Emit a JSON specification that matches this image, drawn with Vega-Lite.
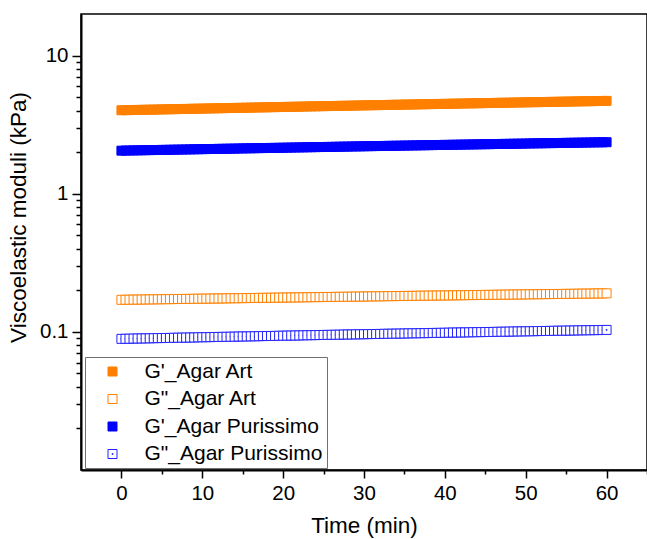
{
  "$schema": "https://vega.github.io/schema/vega-lite/v6.json",
  "width": 566,
  "height": 456,
  "autosize": "none",
  "padding": {"left": 81, "top": 14, "right": 0, "bottom": 69},
  "background": "white",
  "config": {
    "view": {"stroke": "black", "strokeWidth": 1.5},
    "font": "Liberation Sans",
    "axis": {
      "grid": false,
      "domainColor": "black",
      "domainWidth": 2,
      "tickColor": "black",
      "tickWidth": 1.5,
      "labelColor": "black",
      "labelFont": "Liberation Sans",
      "labelFontSize": 20.5,
      "titleFont": "Liberation Sans",
      "titleFontSize": 22.5,
      "titleFontWeight": "normal",
      "titleColor": "black",
      "labelOverlap": false,
      "labelFlush": false
    }
  },
  "data": {"values": [
{"t":0,"a":4.020,"b":0.1706,"c":2.050,"d":0.0890},
{"t":0.5,"a":4.026,"b":0.1708,"c":2.053,"d":0.0891},
{"t":1,"a":4.031,"b":0.1709,"c":2.055,"d":0.0892},
{"t":1.5,"a":4.037,"b":0.1711,"c":2.058,"d":0.0894},
{"t":2,"a":4.043,"b":0.1712,"c":2.060,"d":0.0895},
{"t":2.5,"a":4.048,"b":0.1714,"c":2.063,"d":0.0896},
{"t":3,"a":4.054,"b":0.1716,"c":2.066,"d":0.0897},
{"t":3.5,"a":4.060,"b":0.1717,"c":2.068,"d":0.0898},
{"t":4,"a":4.065,"b":0.1719,"c":2.071,"d":0.0900},
{"t":4.5,"a":4.071,"b":0.1721,"c":2.073,"d":0.0901},
{"t":5,"a":4.077,"b":0.1722,"c":2.076,"d":0.0902},
{"t":5.5,"a":4.082,"b":0.1724,"c":2.078,"d":0.0903},
{"t":6,"a":4.088,"b":0.1725,"c":2.081,"d":0.0904},
{"t":6.5,"a":4.094,"b":0.1727,"c":2.084,"d":0.0906},
{"t":7,"a":4.099,"b":0.1729,"c":2.086,"d":0.0907},
{"t":7.5,"a":4.105,"b":0.1730,"c":2.089,"d":0.0908},
{"t":8,"a":4.111,"b":0.1732,"c":2.091,"d":0.0909},
{"t":8.5,"a":4.116,"b":0.1733,"c":2.094,"d":0.0910},
{"t":9,"a":4.122,"b":0.1735,"c":2.097,"d":0.0911},
{"t":9.5,"a":4.128,"b":0.1737,"c":2.099,"d":0.0913},
{"t":10,"a":4.133,"b":0.1738,"c":2.102,"d":0.0914},
{"t":10.5,"a":4.139,"b":0.1740,"c":2.104,"d":0.0915},
{"t":11,"a":4.145,"b":0.1742,"c":2.107,"d":0.0916},
{"t":11.5,"a":4.150,"b":0.1743,"c":2.109,"d":0.0918},
{"t":12,"a":4.156,"b":0.1745,"c":2.112,"d":0.0919},
{"t":12.5,"a":4.162,"b":0.1746,"c":2.115,"d":0.0920},
{"t":13,"a":4.167,"b":0.1748,"c":2.117,"d":0.0921},
{"t":13.5,"a":4.173,"b":0.1750,"c":2.120,"d":0.0922},
{"t":14,"a":4.179,"b":0.1751,"c":2.122,"d":0.0923},
{"t":14.5,"a":4.184,"b":0.1753,"c":2.125,"d":0.0925},
{"t":15,"a":4.190,"b":0.1754,"c":2.128,"d":0.0926},
{"t":15.5,"a":4.196,"b":0.1756,"c":2.130,"d":0.0927},
{"t":16,"a":4.201,"b":0.1758,"c":2.133,"d":0.0928},
{"t":16.5,"a":4.207,"b":0.1759,"c":2.135,"d":0.0929},
{"t":17,"a":4.213,"b":0.1761,"c":2.138,"d":0.0930},
{"t":17.5,"a":4.218,"b":0.1763,"c":2.140,"d":0.0932},
{"t":18,"a":4.224,"b":0.1764,"c":2.143,"d":0.0933},
{"t":18.5,"a":4.230,"b":0.1766,"c":2.146,"d":0.0934},
{"t":19,"a":4.235,"b":0.1767,"c":2.148,"d":0.0935},
{"t":19.5,"a":4.241,"b":0.1769,"c":2.151,"d":0.0937},
{"t":20,"a":4.247,"b":0.1771,"c":2.153,"d":0.0938},
{"t":20.5,"a":4.252,"b":0.1772,"c":2.156,"d":0.0939},
{"t":21,"a":4.258,"b":0.1774,"c":2.159,"d":0.0940},
{"t":21.5,"a":4.264,"b":0.1775,"c":2.161,"d":0.0941},
{"t":22,"a":4.269,"b":0.1777,"c":2.164,"d":0.0942},
{"t":22.5,"a":4.275,"b":0.1779,"c":2.166,"d":0.0944},
{"t":23,"a":4.281,"b":0.1780,"c":2.169,"d":0.0945},
{"t":23.5,"a":4.286,"b":0.1782,"c":2.171,"d":0.0946},
{"t":24,"a":4.292,"b":0.1784,"c":2.174,"d":0.0947},
{"t":24.5,"a":4.298,"b":0.1785,"c":2.177,"d":0.0949},
{"t":25,"a":4.303,"b":0.1787,"c":2.179,"d":0.0950},
{"t":25.5,"a":4.309,"b":0.1788,"c":2.182,"d":0.0951},
{"t":26,"a":4.315,"b":0.1790,"c":2.184,"d":0.0952},
{"t":26.5,"a":4.320,"b":0.1792,"c":2.187,"d":0.0953},
{"t":27,"a":4.326,"b":0.1793,"c":2.190,"d":0.0954},
{"t":27.5,"a":4.332,"b":0.1795,"c":2.192,"d":0.0956},
{"t":28,"a":4.337,"b":0.1796,"c":2.195,"d":0.0957},
{"t":28.5,"a":4.343,"b":0.1798,"c":2.197,"d":0.0958},
{"t":29,"a":4.349,"b":0.1800,"c":2.200,"d":0.0959},
{"t":29.5,"a":4.354,"b":0.1801,"c":2.202,"d":0.0960},
{"t":30,"a":4.360,"b":0.1803,"c":2.205,"d":0.0961},
{"t":30.5,"a":4.366,"b":0.1805,"c":2.208,"d":0.0963},
{"t":31,"a":4.371,"b":0.1806,"c":2.210,"d":0.0964},
{"t":31.5,"a":4.377,"b":0.1808,"c":2.213,"d":0.0965},
{"t":32,"a":4.383,"b":0.1809,"c":2.215,"d":0.0966},
{"t":32.5,"a":4.388,"b":0.1811,"c":2.218,"d":0.0968},
{"t":33,"a":4.394,"b":0.1813,"c":2.221,"d":0.0969},
{"t":33.5,"a":4.400,"b":0.1814,"c":2.223,"d":0.0970},
{"t":34,"a":4.405,"b":0.1816,"c":2.226,"d":0.0971},
{"t":34.5,"a":4.411,"b":0.1818,"c":2.228,"d":0.0972},
{"t":35,"a":4.417,"b":0.1819,"c":2.231,"d":0.0973},
{"t":35.5,"a":4.422,"b":0.1821,"c":2.233,"d":0.0975},
{"t":36,"a":4.428,"b":0.1822,"c":2.236,"d":0.0976},
{"t":36.5,"a":4.434,"b":0.1824,"c":2.239,"d":0.0977},
{"t":37,"a":4.439,"b":0.1826,"c":2.241,"d":0.0978},
{"t":37.5,"a":4.445,"b":0.1827,"c":2.244,"d":0.0979},
{"t":38,"a":4.451,"b":0.1829,"c":2.246,"d":0.0980},
{"t":38.5,"a":4.456,"b":0.1830,"c":2.249,"d":0.0982},
{"t":39,"a":4.462,"b":0.1832,"c":2.252,"d":0.0983},
{"t":39.5,"a":4.468,"b":0.1834,"c":2.254,"d":0.0984},
{"t":40,"a":4.473,"b":0.1835,"c":2.257,"d":0.0985},
{"t":40.5,"a":4.479,"b":0.1837,"c":2.259,"d":0.0987},
{"t":41,"a":4.485,"b":0.1838,"c":2.262,"d":0.0988},
{"t":41.5,"a":4.490,"b":0.1840,"c":2.264,"d":0.0989},
{"t":42,"a":4.496,"b":0.1842,"c":2.267,"d":0.0990},
{"t":42.5,"a":4.502,"b":0.1843,"c":2.270,"d":0.0991},
{"t":43,"a":4.507,"b":0.1845,"c":2.272,"d":0.0992},
{"t":43.5,"a":4.513,"b":0.1847,"c":2.275,"d":0.0994},
{"t":44,"a":4.519,"b":0.1848,"c":2.277,"d":0.0995},
{"t":44.5,"a":4.524,"b":0.1850,"c":2.280,"d":0.0996},
{"t":45,"a":4.530,"b":0.1851,"c":2.283,"d":0.0997},
{"t":45.5,"a":4.536,"b":0.1853,"c":2.285,"d":0.0998},
{"t":46,"a":4.541,"b":0.1855,"c":2.288,"d":0.0999},
{"t":46.5,"a":4.547,"b":0.1856,"c":2.290,"d":0.1001},
{"t":47,"a":4.553,"b":0.1858,"c":2.293,"d":0.1002},
{"t":47.5,"a":4.558,"b":0.1860,"c":2.295,"d":0.1003},
{"t":48,"a":4.564,"b":0.1861,"c":2.298,"d":0.1004},
{"t":48.5,"a":4.570,"b":0.1863,"c":2.301,"d":0.1006},
{"t":49,"a":4.575,"b":0.1864,"c":2.303,"d":0.1007},
{"t":49.5,"a":4.581,"b":0.1866,"c":2.306,"d":0.1008},
{"t":50,"a":4.587,"b":0.1868,"c":2.308,"d":0.1009},
{"t":50.5,"a":4.592,"b":0.1869,"c":2.311,"d":0.1010},
{"t":51,"a":4.598,"b":0.1871,"c":2.314,"d":0.1011},
{"t":51.5,"a":4.604,"b":0.1872,"c":2.316,"d":0.1013},
{"t":52,"a":4.609,"b":0.1874,"c":2.319,"d":0.1014},
{"t":52.5,"a":4.615,"b":0.1876,"c":2.321,"d":0.1015},
{"t":53,"a":4.621,"b":0.1877,"c":2.324,"d":0.1016},
{"t":53.5,"a":4.626,"b":0.1879,"c":2.326,"d":0.1018},
{"t":54,"a":4.632,"b":0.1880,"c":2.329,"d":0.1019},
{"t":54.5,"a":4.638,"b":0.1882,"c":2.332,"d":0.1020},
{"t":55,"a":4.643,"b":0.1884,"c":2.334,"d":0.1021},
{"t":55.5,"a":4.649,"b":0.1885,"c":2.337,"d":0.1022},
{"t":56,"a":4.655,"b":0.1887,"c":2.339,"d":0.1023},
{"t":56.5,"a":4.660,"b":0.1889,"c":2.342,"d":0.1025},
{"t":57,"a":4.666,"b":0.1890,"c":2.345,"d":0.1026},
{"t":57.5,"a":4.672,"b":0.1892,"c":2.347,"d":0.1027},
{"t":58,"a":4.677,"b":0.1893,"c":2.350,"d":0.1028},
{"t":58.5,"a":4.683,"b":0.1895,"c":2.352,"d":0.1029},
{"t":59,"a":4.689,"b":0.1897,"c":2.355,"d":0.1030},
{"t":59.5,"a":4.694,"b":0.1898,"c":2.357,"d":0.1032},
{"t":60,"a":4.700,"b":0.1900,"c":2.360,"d":0.1033}
  ]},
  "transform": [
    {"fold": ["a", "b", "c", "d"], "as": ["k", "v"]},
    {"lookup": "k", "from": {"data": {"values": [
      {"k": "a", "name": "G'_Agar Art"},
      {"k": "b", "name": "G\"_Agar Art"},
      {"k": "c", "name": "G'_Agar Purissimo"},
      {"k": "d", "name": "G\"_Agar Purissimo"}
    ]}, "key": "k", "fields": ["name"]}}
  ],
  "mark": {"type": "point", "filled": true, "size": 81, "strokeWidth": 1, "opacity": 1},
  "encoding": {
    "x": {
      "field": "t", "type": "quantitative",
      "scale": {"domain": [-5, 65], "nice": false, "zero": false},
      "axis": {
        "title": "Time (min)",
        "titlePadding": 11,
        "values": [0, 5, 10, 15, 20, 25, 30, 35, 40, 45, 50, 55, 60, 65],
        "labelExpr": "datum.value % 10 == 0 ? datum.label : ''",
        "tickSize": {"condition": {"test": "datum.value % 10 == 0", "value": 8}, "value": 4},
        "labelPadding": 5
      }
    },
    "y": {
      "field": "v", "type": "quantitative",
      "scale": {"type": "log", "domain": [0.01, 20], "nice": false},
      "axis": {
        "title": "Viscoelastic moduli (kPa)",
        "titlePadding": 9,
        "titleY": 203,
        "format": "~g",
        "values": [0.02, 0.03, 0.04, 0.05, 0.06, 0.07, 0.08, 0.09, 0.1, 0.2, 0.3, 0.4, 0.5, 0.6, 0.7, 0.8, 0.9, 1, 2, 3, 4, 5, 6, 7, 8, 9, 10],
        "labelExpr": "(datum.value == 0.1 || datum.value == 1 || datum.value == 10) ? datum.label : ''",
        "tickSize": {"condition": {"test": "datum.value == 0.1 || datum.value == 1 || datum.value == 10", "value": 9}, "value": 5},
        "labelPadding": 4
      }
    },
    "fill": {
      "field": "name", "type": "nominal",
      "scale": {"domain": ["G'_Agar Art", "G\"_Agar Art", "G'_Agar Purissimo", "G\"_Agar Purissimo"], "range": ["#FF8000", "#FFFFFF", "#0000FF", "#FFFFFF"]},
      "legend": {
        "title": null,
        "orient": "none",
        "legendX": 4,
        "legendY": 343,
        "direction": "vertical",
        "labelFont": "Liberation Sans",
        "labelFontSize": 21,
        "labelColor": "black",
        "labelLimit": 400,
        "symbolSize": 81,
        "symbolStrokeWidth": 1,
        "rowPadding": 5.5,
        "labelOffset": 21.5,
        "padding": 4,
        "symbolOffset": 13,
        "strokeColor": "#707070",
        "fillColor": "white"
      }
    },
    "stroke": {
      "field": "name", "type": "nominal",
      "scale": {"domain": ["G'_Agar Art", "G\"_Agar Art", "G'_Agar Purissimo", "G\"_Agar Purissimo"], "range": ["#FF8000", "#FF8000", "#0000FF", "#2222FF"]}
    },
    "shape": {
      "field": "name", "type": "nominal",
      "scale": {"domain": ["G'_Agar Art", "G\"_Agar Art", "G'_Agar Purissimo", "G\"_Agar Purissimo"], "range": ["square", "square", "square", "M-1,-1H1V1H-1Z M-0.1,-0.1H0.1V0.1H-0.1Z"]}
    }
  }
}
